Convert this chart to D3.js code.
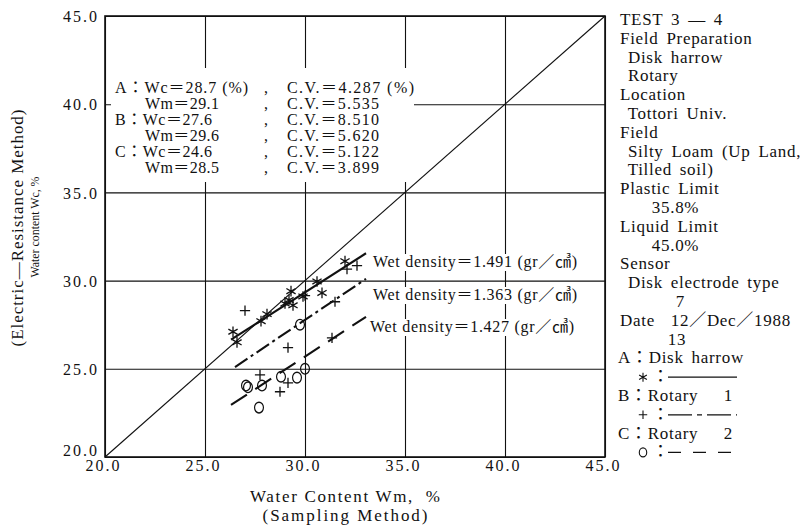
<!DOCTYPE html>
<html>
<head>
<meta charset="utf-8">
<script src="https://cdn.jsdelivr.net/npm/d3@7"></script>
<style>
  html, body { margin: 0; padding: 0; background: #fff; }
  svg { display: block; }
  text { font-family: "Liberation Serif", "Noto Sans CJK JP", serif; fill: #111; white-space: pre; }
</style>
</head>
<body>
<svg id="chart" width="810" height="531"></svg>
<script>
// ---- data -------------------------------------------------------------
// Each point: [Wm (sampling method), Wc (electric-resistance method)], %
const diskHarrow = [
  [26.4, 27.1], [26.6, 26.5], [27.8, 27.7], [28.1, 28.1], [29.0, 28.7],
  [29.2, 28.9], [29.3, 29.4], [29.4, 28.6], [29.9, 29.1], [30.6, 29.95],
  [30.85, 29.3], [32.0, 31.1]
];
const rotary1 = [
  [27.0, 28.3], [27.75, 24.65], [28.75, 23.7], [29.15, 24.2], [29.15, 26.2],
  [30.0, 29.15], [31.35, 26.75], [31.5, 28.8], [32.1, 30.65], [32.6, 30.85]
];
const rotary2 = [
  [27.05, 24.05], [27.15, 23.95], [27.85, 24.05], [27.7, 22.8], [28.8, 24.55],
  [29.6, 24.5], [29.75, 27.5], [30.0, 25.0]
];

// fitted lines, start and end as [Wm, Wc]
const fitA = [[26.3, 26.65], [33.05, 31.55]];
const fitB = [[26.5, 25.1], [33.05, 30.1]];
const fitC = [[26.3, 22.95], [33.05, 27.95]];

const wetDensity = [1.491, 1.363, 1.427];   // gr/cm3, for A, B, C

// summary statistics
const statGroups = ["A", "B", "C"];
const wcMean = [28.7, 27.6, 24.6];
const wcCV   = [4.287, 8.510, 5.122];
const wmMean = [29.1, 29.6, 28.5];
const wmCV   = [5.535, 5.620, 3.899];

const axisTicks = [20, 25, 30, 35, 40, 45];

const siteNotes = [
  "TEST 3 — 4",
  "Field Preparation",
  " Disk harrow",
  " Rotary",
  "Location",
  " Tottori Univ.",
  "Field",
  " Silty Loam (Up Land,",
  " Tilled soil)",
  "Plastic Limit",
  "    35.8%",
  "Liquid Limit",
  "    45.0%",
  "Sensor",
  " Disk electrode type",
  "       7",
  "Date  12／Dec／1988",
  "      13"
];
const methodNames = ["Disk harrow", "Rotary\u3000 1", "Rotary\u3000 2"];

// ---- drawing ----------------------------------------------------------
const svg = d3.select("#chart");
const ink = "#111";
const serif = '"Liberation Serif", "Noto Sans CJK JP", serif';

const x = d3.scaleLinear().domain([20, 45]).range([105, 605]);
const y = d3.scaleLinear().domain([20, 45]).range([457, 16]);
const plotW = x(45) - x(20), plotH = y(20) - y(45);

// grid via axes
const gx = svg.append("g")
  .attr("transform", `translate(0,${y(20)})`)
  .call(d3.axisBottom(x).tickValues(axisTicks).tickFormat(d3.format(".1f"))
        .tickSizeInner(-plotH).tickSizeOuter(0).tickPadding(3));
const gy = svg.append("g")
  .attr("transform", `translate(${x(20)},0)`)
  .call(d3.axisLeft(y).tickValues(axisTicks).tickFormat(d3.format(".1f"))
        .tickSizeInner(-plotW).tickSizeOuter(0).tickPadding(8));
[gx, gy].forEach(g => {
  g.select(".domain").remove();
  g.selectAll(".tick line").attr("stroke", ink).attr("stroke-width", 1.1);
  g.selectAll(".tick text")
    .attr("font-family", serif).attr("font-size", 16).attr("fill", ink)
    .attr("textLength", 34).attr("lengthAdjust", "spacing");
});
gx.selectAll(".tick text").attr("dx", -3);
gy.selectAll(".tick text").attr("dy", d => d === 20 ? "-0.1em" : "0.36em");

// 1:1 line
svg.append("line")
  .attr("x1", x(20)).attr("y1", y(20)).attr("x2", x(45)).attr("y2", y(45))
  .attr("stroke", ink).attr("stroke-width", 1.1);

// frame
svg.append("rect")
  .attr("x", x(20)).attr("y", y(45)).attr("width", plotW).attr("height", plotH)
  .attr("fill", "none").attr("stroke", ink).attr("stroke-width", 1.6);

// statistics block (on white)
svg.append("rect").attr("x", 111).attr("y", 68).attr("width", 303).attr("height", 114).attr("fill", "#fff");
const stats = svg.append("g").attr("font-size", 16);
const fmt1 = d3.format(".1f"), fmt3 = d3.format(".3f");
statGroups.forEach((g, i) => {
  const b1 = 93 + i * 32, b2 = b1 + 16;
  const first = i === 0;
  stats.append("text").attr("x", 115).attr("y", b1)
    .attr("textLength", first ? 133 : 97).attr("lengthAdjust", "spacing")
    .text(`${g}：Wc＝${fmt1(wcMean[i])}` + (first ? " (%)" : ""));
  stats.append("text").attr("x", 264).attr("y", b1).text(",");
  stats.append("text").attr("x", 287).attr("y", b1)
    .attr("textLength", first ? 127 : 92).attr("lengthAdjust", "spacing")
    .text(`C.V.＝${fmt3(wcCV[i])}` + (first ? " (%)" : ""));
  stats.append("text").attr("x", 145).attr("y", b2).attr("textLength", 74).attr("lengthAdjust", "spacing")
    .text(`Wm＝${fmt1(wmMean[i])}`);
  stats.append("text").attr("x", 264).attr("y", b2).text(",");
  stats.append("text").attr("x", 287).attr("y", b2).attr("textLength", 92).attr("lengthAdjust", "spacing")
    .text(`C.V.＝${fmt3(wmCV[i])}`);
});

// series styles
const series = [
  { pts: diskHarrow, fit: fitA, dash: null,        sym: d3.symbolAsterisk, size: 80, sy: 1 },
  { pts: rotary1,    fit: fitB, dash: "15,4,3,4",  sym: d3.symbolPlus,     size: 36, sy: 1 },
  { pts: rotary2,    fit: fitC, dash: "19,10",     sym: d3.symbolCircle,   size: 62, sy: 1.2 }
];
const line = d3.line().x(d => x(d[0])).y(d => y(d[1]));

// wet density labels (on white)
const labelBase = [267, 300, 332];
const labelX = [373, 373, 370];
const labels = svg.append("g");
series.forEach((s, i) => {
  const t = labels.append("text").attr("x", labelX[i]).attr("y", labelBase[i])
    .attr("font-size", 16).attr("textLength", 204).attr("lengthAdjust", "spacing")
    .text(`Wet density＝${fmt3(wetDensity[i])} (gr／㎤)`);
  const bb = t.node().getBBox();
  labels.insert("rect", () => t.node()).attr("x", bb.x - 1).attr("y", labelBase[i] - 13)
    .attr("width", bb.width + 2).attr("height", 17).attr("fill", "#fff");
});

series.forEach(s => {
  svg.append("path").datum(s.fit).attr("d", line)
    .attr("fill", "none").attr("stroke", ink).attr("stroke-width", 2.1)
    .attr("stroke-dasharray", s.dash);
  svg.append("g").selectAll("path").data(s.pts).join("path")
    .attr("transform", d => `translate(${x(d[0])},${y(d[1])}) scale(1,${s.sy})`)
    .attr("d", d3.symbol().type(s.sym).size(s.size))
    .attr("fill", "none").attr("stroke", ink).attr("stroke-width", 1.3 / Math.sqrt(s.sy));
});

// axis titles
svg.append("text").attr("x", 345).attr("y", 502).attr("text-anchor", "middle")
  .attr("font-size", 17).attr("textLength", 190).attr("lengthAdjust", "spacing")
  .text("Water Content Wm,  %");
svg.append("text").attr("x", 345).attr("y", 521).attr("text-anchor", "middle")
  .attr("font-size", 17).attr("textLength", 165).attr("lengthAdjust", "spacing")
  .text("(Sampling Method)");
svg.append("text").attr("transform", "translate(23,228) rotate(-90)").attr("text-anchor", "middle")
  .attr("font-size", 17).attr("textLength", 237).attr("lengthAdjust", "spacing")
  .text("(Electric—Resistance Method)");
svg.append("text").attr("transform", "translate(39,227) rotate(-90)").attr("text-anchor", "middle")
  .attr("font-size", 13.5).attr("textLength", 101).attr("lengthAdjust", "spacingAndGlyphs")
  .text("Water content Wc, %");

// notes panel
const noteX = 620, rowH = 18.8, row0 = 25;
const notes = svg.append("g").attr("font-size", 17)
  .attr("letter-spacing", 0.7).attr("word-spacing", 3);
siteNotes.forEach((s, i) => {
  notes.append("text").attr("x", noteX).attr("y", row0 + i * rowH).text(s);
});
series.forEach((s, i) => {
  const r = siteNotes.length + i * 2;
  notes.append("text").attr("x", noteX - 2).attr("y", row0 + r * rowH)
    .text(`${statGroups[i]}：${methodNames[i]}`);
  const by = row0 + (r + 1) * rowH;
  notes.append("path")
    .attr("transform", `translate(${noteX + 23},${by - 5}) scale(1,${s.sy})`)
    .attr("d", d3.symbol().type(s.sym).size(s.size * 0.7))
    .attr("fill", "none").attr("stroke", ink).attr("stroke-width", 1.1);
  notes.append("text").attr("x", noteX + 32).attr("y", by).text("：");
  notes.append("line").attr("x1", noteX + 48).attr("x2", noteX + 117)
    .attr("y1", by - 5).attr("y2", by - 5)
    .attr("stroke", ink).attr("stroke-width", 1.3)
    .attr("stroke-dasharray", i === 0 ? null : (i === 1 ? "24,5,5,5" : "13,12"));
});
</script>
</body>
</html>
